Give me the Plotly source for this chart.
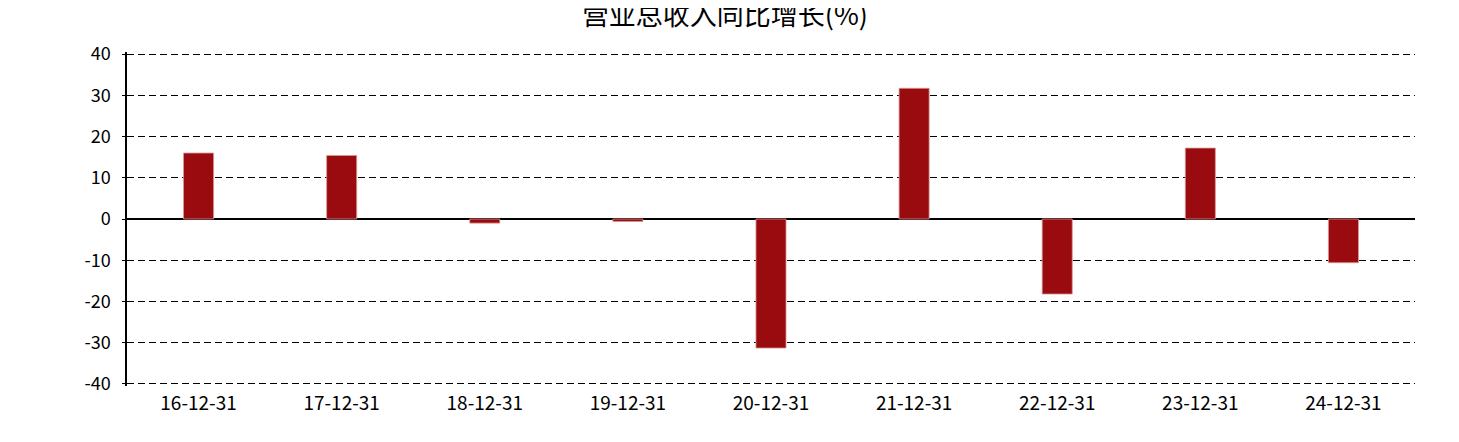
import plotly.graph_objects as go

# 营业总收入同比增长 (%)
dates = ["16-12-31", "17-12-31", "18-12-31", "19-12-31", "20-12-31",
         "21-12-31", "22-12-31", "23-12-31", "24-12-31"]
growth = [16.0, 15.4, -1.0, -0.6, -31.3, 31.7, -18.2, 17.2, -10.6]
yticks = [-40, -30, -20, -10, 0, 10, 20, 30, 40]

fig = go.Figure()
fig.add_trace(go.Bar(
    x=dates, y=growth,
    marker=dict(color="#990B0F", line=dict(color="rgba(220,150,150,0.8)", width=1)),
    width=0.21,
))

fig.update_layout(
    width=1459, height=442,
    margin=dict(l=119, r=52, t=44, b=64),
    paper_bgcolor="white", plot_bgcolor="white",
    font=dict(family="Noto Sans CJK SC, sans-serif", color="black", size=19),
    title=dict(text="营业总收入同比增长(%)", x=0.4914, xanchor="center",
               y=0.983, yanchor="middle", font=dict(size=27)),
    showlegend=False,
)
fig.update_xaxes(type="category", showgrid=False, showline=False, ticks="",
                 tickfont=dict(size=19), ticklabelstandoff=4)
fig.update_yaxes(
    range=[-40.5, 40.5], tickvals=yticks, ticktext=[str(v) for v in yticks],
    tickfont=dict(size=18), ticklabelstandoff=8,
    showgrid=True, gridcolor="black", gridwidth=1.2, griddash="7px,4px",
    showline=True, linecolor="black", linewidth=1.5,
    zeroline=True, zerolinecolor="black", zerolinewidth=1.5,
    ticks="outside", ticklen=3, tickcolor="black",
)

fig.write_html("out.html")
